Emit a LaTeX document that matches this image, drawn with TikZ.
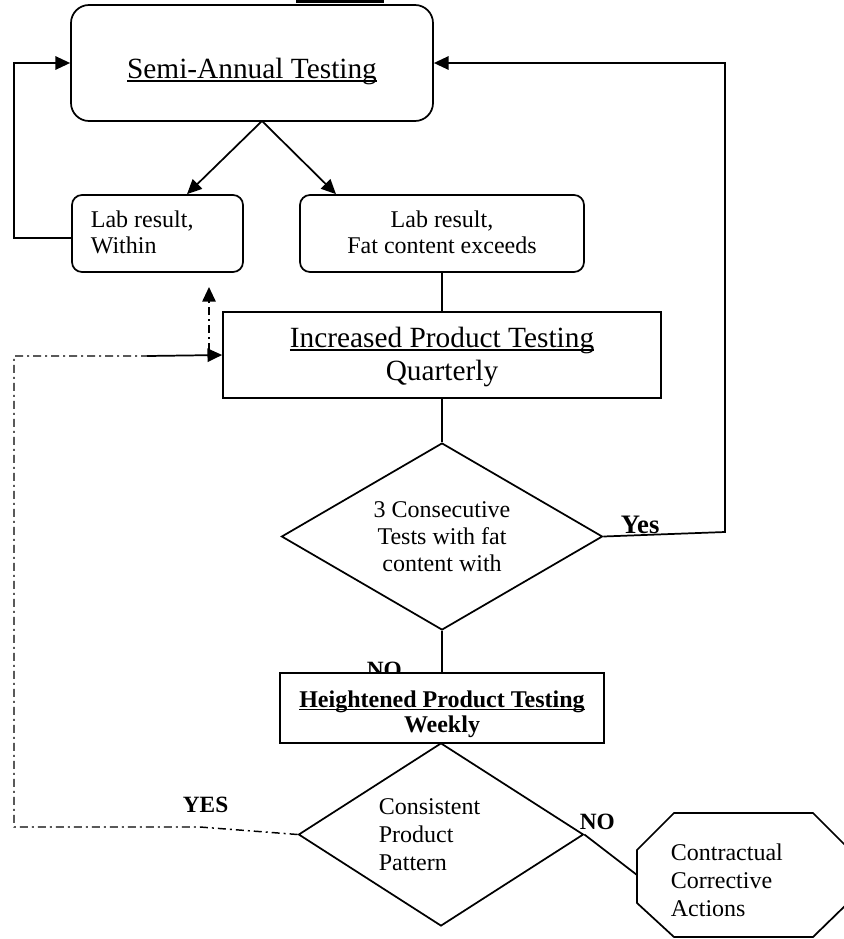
\documentclass[tikz,border=0pt]{standalone}
\usepackage{fontspec}
\setmainfont{Liberation Serif}
\usetikzlibrary{arrows.meta,shapes.geometric,calc}
\newcommand{\myul}[1]{\setbox0\hbox{#1}\rlap{\rule[-0.13em]{\wd0}{0.07em}}\box0}
\begin{document}
\begin{tikzpicture}[x=0.75pt,y=-0.75pt,line width=1.3pt,
  rbox/.style={draw,fill=white,inner sep=0pt,rounded corners=7.5pt},
  sbox/.style={draw,fill=white,inner sep=0pt},
  dia/.style={draw,diamond,fill=white,inner sep=0pt},
  lbl/.style={inner sep=0pt},
  big/.style={font=\fontsize{22}{24.75}\selectfont},
  small/.style={font=\fontsize{18}{19.5}\selectfont},
  arr/.style={-{Triangle[length=11pt,width=10pt]}},
  dd/.style={dash pattern=on 6pt off 3pt on 1.5pt off 3pt,line width=1.1pt}]
\useasboundingbox (0,0) rectangle (843,939);
\fill (296,0) rectangle (384,3);
% boxes
\node[rbox,rounded corners=13.5pt,minimum width=271.5pt,minimum height=87pt] (semi) at (252,63) {};
\node[lbl,big,anchor=base] (semitxt) at (252,78) {\myul{Semi-Annual Testing}};
\node[rbox,minimum width=128.25pt,minimum height=57.75pt] (labW) at (157.5,233.5) {};
\node[lbl,small,align=left,anchor=west] (labWtxt) at (90,232) {Lab result,\\Within};
\node[rbox,minimum width=213pt,minimum height=57.75pt] (labF) at (442,233.5) {};
\node[lbl,small,align=center] (labFtxt) at (442,232) {Lab result,\\Fat content exceeds};
\node[sbox,minimum width=328.5pt,minimum height=64.5pt] (inc) at (442,355) {};
\node[lbl,big,align=center] (inctxt) at (442,356.7) {\myul{Increased Product Testing}\\Quarterly};
\node[dia,minimum width=240.75pt,minimum height=140.25pt] (d1) at (442,536.5) {};
\node[lbl,font=\fontsize{18}{20.25}\selectfont,align=center] (d1txt) at (442,536.5) {3 Consecutive\\Tests with fat\\content with};
\node[lbl,font=\bfseries\fontsize{17.5}{18}\selectfont,anchor=base west] (notop) at (366,677) {NO};
\node[sbox,minimum width=243pt,minimum height=52.5pt] (hb) at (442,708) {};
\node[lbl,font=\bfseries\fontsize{18}{18.75}\selectfont,align=center] (hbtxt) at (442,714) {\myul{Heightened Product Testing}\\Weekly};
\node[dia,minimum width=213.75pt,minimum height=137.25pt] (d2) at (441,834.5) {};
\node[lbl,font=\fontsize{18}{21}\selectfont,align=left,anchor=west] (d2txt) at (378,835) {Consistent\\Product\\Pattern};
% octagon
\draw (674,813) -- (813,813) -- (850,850) -- (850,901) -- (813,937) -- (674,937) -- (637,903) -- (637,850) -- cycle;
\coordinate (octW) at (637,875);
\node[lbl,font=\fontsize{18}{21}\selectfont,align=left,anchor=west] (octtxt) at (670,880) {Contractual\\Corrective\\Actions};
% labels
\node[lbl,font=\bfseries\fontsize{20}{20}\selectfont,anchor=base west] (yes1) at (620,533) {Yes};
\node[lbl,font=\bfseries\fontsize{17.5}{18}\selectfont,anchor=base west] (yes2) at (182,812) {YES};
\node[lbl,font=\bfseries\fontsize{17.5}{18}\selectfont,anchor=base west] (no2) at (579,829) {NO};
% connectors
\coordinate (apex) at (262,121);
\draw[arr] (apex) -- (labW.north -| 187,0);
\draw[arr] (apex) -- (labF.north -| 336,0);
\draw[arr] (labW.west |- 0,238) -- (14,238) -- (14,63) -- (semi.west);
\draw (labF.south) -- (inc.north);
\draw (inc.south) -- (d1.north);
\draw[arr] (d1.east) -- (725,532) -- (725,63) -- (semi.east);
\draw (d1.south) -- (hb.north);
\draw (d2.east) -- (octW);
\coordinate (ddend) at (147,356);
\draw[dd] (d2.west) -- (200,827) -- (14,827) -- (14,356) -- (ddend);
\draw[arr] (ddend) -- (inc.west);
\coordinate (vA) at (209,351);
\coordinate (vB) at (209,287);
\draw[dd,line width=1.4pt,arr] (vA) -- (vB);
\end{tikzpicture}
\end{document}
